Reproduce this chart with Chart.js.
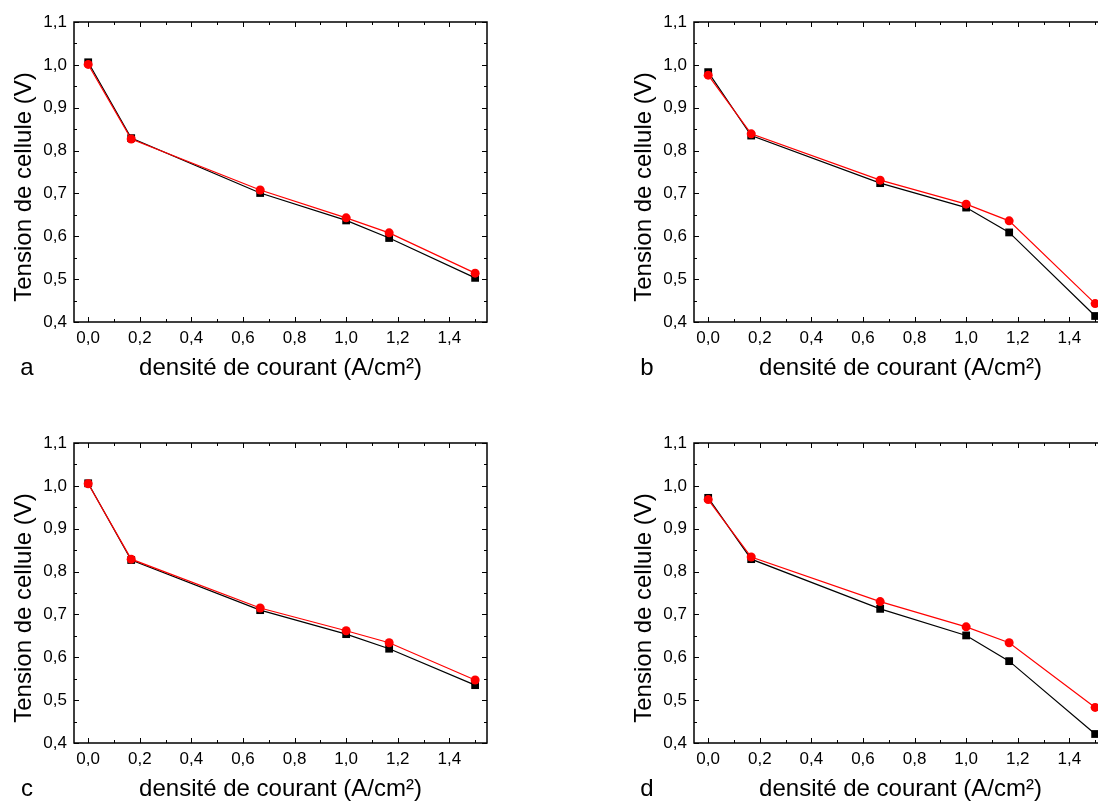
<!DOCTYPE html>
<html>
<head>
<meta charset="utf-8">
<script src="https://cdn.jsdelivr.net/npm/chart.js@4.4.0/dist/chart.umd.min.js"></script>
<style>
  html, body { margin: 0; padding: 0; background: #fff; overflow: hidden; }
  #wrap { position: relative; width: 1098px; height: 801px; overflow: hidden; }
  canvas { position: absolute; }
</style>
</head>
<body>
<div id="wrap">
  <canvas id="chartA" width="549" height="380" style="left:0;top:0"></canvas>
  <canvas id="chartB" width="549" height="380" style="left:620px;top:0"></canvas>
  <canvas id="chartC" width="549" height="380" style="left:0;top:421px"></canvas>
  <canvas id="chartD" width="549" height="380" style="left:620px;top:421px"></canvas>
</div>
<script>
// Données
const densite = [0, 0.1667, 0.6667, 1.0, 1.1667, 1.5];
const xTicks = [0, 0.2, 0.4, 0.6, 0.8, 1.0, 1.2, 1.4];
const yTicks = [0.4, 0.5, 0.6, 0.7, 0.8, 0.9, 1.0, 1.1];

const aNoir  = [1.006, 0.829, 0.701, 0.637, 0.596, 0.503];
const aRouge = [1.001, 0.827, 0.708, 0.643, 0.608, 0.514];
const bNoir  = [0.983, 0.835, 0.724, 0.667, 0.609, 0.414];
const bRouge = [0.976, 0.839, 0.731, 0.675, 0.636, 0.443];
const cNoir  = [1.006, 0.827, 0.710, 0.654, 0.620, 0.535];
const cRouge = [1.005, 0.829, 0.715, 0.662, 0.634, 0.547];
const dNoir  = [0.972, 0.829, 0.713, 0.651, 0.591, 0.421];
const dRouge = [0.968, 0.834, 0.730, 0.671, 0.634, 0.483];

const titreX = "densité de courant (A/cm²)";
const titreY = "Tension de cellule (V)";

Chart.defaults.font.family = "'Liberation Sans', Arial, sans-serif";
Chart.defaults.color = "#000";

const virgule = (v) => v.toFixed(1).replace(".", ",");

// cadre, graduations internes et titres
const cadrePlugin = {
  id: "cadre",
  afterDraw(chart, args, opts) {
    const { ctx, chartArea: a, scales } = chart;
    const x = scales.x, y = scales.y;
    ctx.save();
    ctx.strokeStyle = "#000";
    ctx.lineWidth = 1;
    for (let i = 0; i <= 15; i++) {
      const px = Math.round(x.getPixelForValue(i / 10)) + 0.5;
      const len = i % 2 === 0 ? 5 : 3;
      ctx.beginPath();
      ctx.moveTo(px, a.bottom); ctx.lineTo(px, a.bottom - len);
      ctx.moveTo(px, a.top); ctx.lineTo(px, a.top + len);
      ctx.stroke();
    }
    for (let i = 0; i <= 14; i++) {
      const py = Math.round(y.getPixelForValue(0.4 + i * 0.05)) + 0.5;
      const len = i % 2 === 0 ? 5 : 3;
      ctx.beginPath();
      ctx.moveTo(a.left, py); ctx.lineTo(a.left + len, py);
      ctx.moveTo(a.right, py); ctx.lineTo(a.right - len, py);
      ctx.stroke();
    }
    ctx.lineWidth = 1.5;
    ctx.strokeRect(a.left, a.top, a.right - a.left, a.bottom - a.top);

    ctx.fillStyle = "#000";
    ctx.textAlign = "center";
    ctx.textBaseline = "middle";
    ctx.font = "24px 'Liberation Sans', Arial, sans-serif";
    ctx.fillText(titreX, (a.left + a.right) / 2, a.bottom + 46);
    ctx.fillText(opts.lettre, 27, a.bottom + 46);
    ctx.save();
    ctx.translate(24, (a.top + a.bottom) / 2 + 15);
    ctx.rotate(-Math.PI / 2);
    ctx.fillText(titreY, 0, 0);
    ctx.restore();
    ctx.restore();
  },
};

function makeChart(id, lettre, noir, rouge) {
  const ctx = document.getElementById(id).getContext("2d");
  return new Chart(ctx, {
    type: "line",
    data: {
      datasets: [
        {
          label: "rouge",
          data: densite.map((v, i) => ({ x: v, y: rouge[i] })),
          borderColor: "#ff0000",
          backgroundColor: "#ff0000",
          borderWidth: 1.2,
          pointStyle: "circle",
          pointRadius: 4.5,
          pointBorderWidth: 0,
          order: 0,
        },
        {
          label: "noir",
          data: densite.map((v, i) => ({ x: v, y: noir[i] })),
          borderColor: "#000",
          backgroundColor: "#000",
          borderWidth: 1.2,
          pointStyle: "rect",
          pointRadius: 5.5,
          pointBorderWidth: 0,
          order: 1,
        },
      ],
    },
    options: {
      responsive: false,
      animation: false,
      clip: false,
      layout: { padding: { top: 22, right: 62, left: 0, bottom: 0 } },
      scales: {
        x: {
          type: "linear",
          min: -0.055,
          max: 1.546,
          grid: { display: false, drawTicks: false },
          border: { display: false },
          afterBuildTicks: (s) => { s.ticks = xTicks.map((v) => ({ value: v })); },
          afterFit: (s) => { s.height = 58; },
          ticks: {
            autoSkip: false,
            maxRotation: 0,
            padding: 6,
            font: { size: 17 },
            callback: (v) => virgule(v),
          },
        },
        y: {
          min: 0.4,
          max: 1.1,
          grid: { display: false, drawTicks: false },
          border: { display: false },
          afterBuildTicks: (s) => { s.ticks = yTicks.map((v) => ({ value: v })); },
          afterFit: (s) => { s.width = 74; },
          ticks: {
            autoSkip: false,
            padding: 7,
            font: { size: 17 },
            callback: (v) => virgule(v),
          },
        },
      },
      plugins: {
        legend: { display: false },
        tooltip: { enabled: false },
        cadre: { lettre: lettre },
      },
    },
    plugins: [cadrePlugin],
  });
}

makeChart("chartA", "a", aNoir, aRouge);
makeChart("chartB", "b", bNoir, bRouge);
makeChart("chartC", "c", cNoir, cRouge);
makeChart("chartD", "d", dNoir, dRouge);
</script>
</body>
</html>
